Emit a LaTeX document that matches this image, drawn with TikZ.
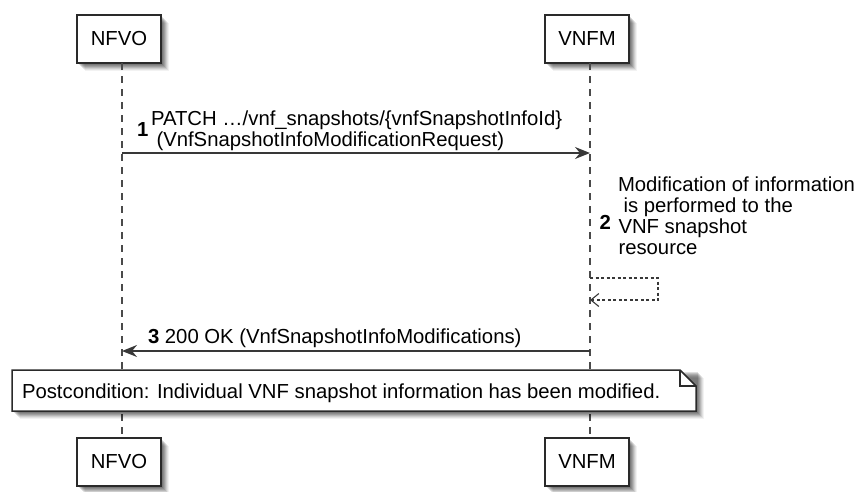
\documentclass[tikz,border=0pt]{standalone}
\usepackage{fontspec}
\setmainfont{Liberation Sans}
\usetikzlibrary{arrows.meta,calc}
\definecolor{linec}{HTML}{383838}
\definecolor{boxc}{HTML}{2A2A2A}
\definecolor{lifec}{HTML}{4A4A4A}
\newcommand\softshadow[4]{%
  \foreach \d/\op in {2/0.13,3/0.13,4/0.12,5/0.11,6/0.09,7/0.07,8/0.05}{%
    \fill[black,opacity=\op] (#1+\d,#2+\d) rectangle (#3+\d,#4+\d);}}
\begin{document}
\begin{tikzpicture}[x=1pt,y=-1pt,
  every node/.style={inner sep=0pt, outer sep=0pt, font=\fontsize{20.3}{21}\selectfont},
  pbox/.style={draw=boxc, line width=1.5pt, fill=white, minimum width=84pt, minimum height=48pt},
  lifeline/.style={draw=lifec, line width=1.2pt, dash pattern=on 7pt off 6pt},
  msg/.style={draw=linec, line width=1.5pt, -{Stealth[length=15pt,width=12pt,inset=5pt]}},
  selfmsg/.style={draw=linec, line width=1.1pt, dash pattern=on 3pt off 2.5pt, -{Straight Barb[length=8pt,width=13pt]}},
  txt/.style={anchor=base west},
  notebox/.style={draw=boxc, line width=1.5pt, fill=white}]
\useasboundingbox (0,0) rectangle (861,491);
% shadows
\softshadow{77}{15}{161}{63}
\softshadow{545}{15}{629}{63}
\softshadow{77}{438}{161}{486}
\softshadow{545}{438}{629}{486}
% lifeline x positions
\coordinate (nfvoX) at (122,0);
\coordinate (vnfmX) at (590,0);
% participants
\node[pbox] (nfvoT) at (119,39) {NFVO};
\node[pbox] (vnfmT) at (587,39) {VNFM};
\node[pbox] (nfvoB) at (119,462) {NFVO};
\node[pbox] (vnfmB) at (587,462) {VNFM};
% lifelines
\draw[lifeline] (nfvoT.south -| nfvoX) -- (nfvoB.north -| nfvoX);
\draw[lifeline] (vnfmT.south -| vnfmX) -- (vnfmB.north -| vnfmX);
% message 1
\coordinate (m1a) at (122,153);
\coordinate (m1b) at (590,153);
\draw[msg] (m1a) -- (m1b);
\node[txt] (n1) at (137,136) {\bfseries 1};
\node[txt] (t1a) at (151,125) {PATCH …/vnf\_snapshots/\{vnfSnapshotInfoId\}};
\node[txt] (t1b) at (156.5,146) {(VnfSnapshotInfoModificationRequest)};
% message 2 (self)
\coordinate (s2a) at (590,278);
\coordinate (s2c) at (590,300);
\draw[selfmsg] (s2a) -- ++(68,0) -- ++(0,22) -- (s2c);
\node[txt] (n2) at (599.5,229) {\bfseries 2};
\node[txt] (t2a) at (618,191) {Modification of information};
\node[txt] (t2b) at (623.6,212) {is performed to the};
\node[txt] (t2c) at (618.5,233) {VNF snapshot};
\node[txt] (t2d) at (618.5,254) {resource};
% message 3
\coordinate (m3a) at (590,351);
\coordinate (m3b) at (122,351);
\draw[msg] (m3a) -- (m3b);
\node[txt] (t3) at (148,343) {\textbf{3} 200 OK (VnfSnapshotInfoModifications)};
% note
\softshadow{12}{370}{696}{411}
\draw[notebox] (12,370) -- (680,370) -- (696,386) -- (696,411) -- (12,411) -- cycle;
\draw[draw=boxc, line width=1.2pt] (680,370) -- (680,386) -- (696,386);
\node[txt] (note) at (22,398) {Postcondition: Individual VNF snapshot information has been modified.};
\end{tikzpicture}
\end{document}
